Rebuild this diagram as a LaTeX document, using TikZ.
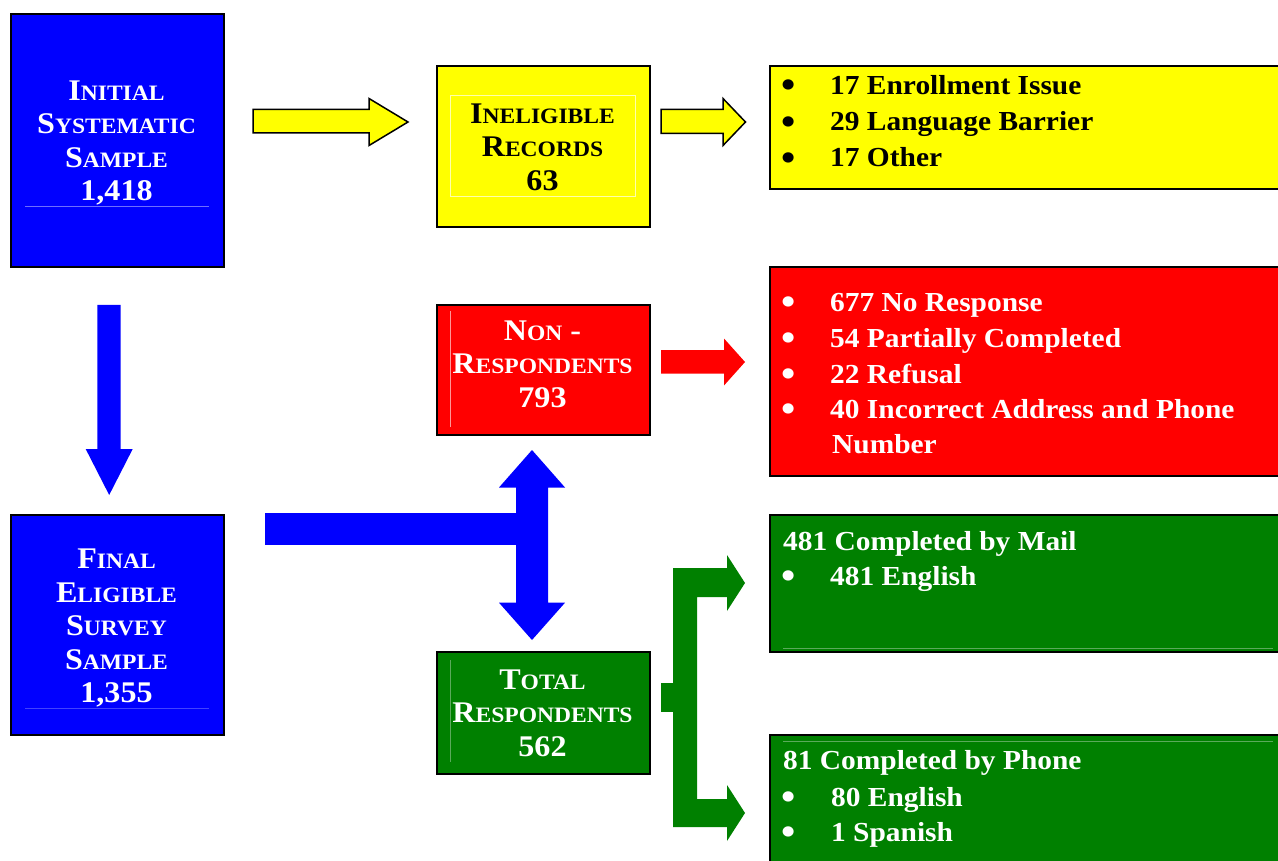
\documentclass[tikz,border=0pt]{standalone}
\usepackage{fontspec}
\setmainfont{Liberation Serif}[FakeStretch=1.07]
\definecolor{pblue}{RGB}{0,0,255}
\definecolor{pyellow}{RGB}{255,255,0}
\definecolor{pred}{RGB}{255,0,0}
\definecolor{pgreen}{RGB}{0,128,0}
\definecolor{fblue}{RGB}{110,110,255}
\definecolor{fyellow}{RGB}{255,255,170}
\definecolor{fred}{RGB}{255,150,150}
\definecolor{fgreen}{RGB}{90,170,90}
\newcommand\boxfont{\fontsize{30}{33.5}\selectfont\bfseries}
\newcommand\listfont{\fontsize{27.5}{36}\selectfont\bfseries}
\newcommand\mysc[2]{#1{\fontsize{22}{22}\selectfont #2}}
\newcommand\mybul{\raisebox{-3.2pt}{\fontsize{38}{38}\selectfont •}}
\begin{document}
\begin{tikzpicture}[x=1pt,y=-1pt,
  box/.style={draw=black, line width=2pt, inner sep=0pt, anchor=north west},
  boxtext/.style={align=center, font=\boxfont, inner sep=0pt},
  item/.style={anchor=base west, font=\listfont, inner sep=0pt},
  bul/.style={anchor=base, font=\listfont, inner sep=0pt},
  faint/.style={line width=0.8pt},
  yarrow/.style={fill=pyellow, draw=black, line width=1.5pt, line join=miter},
]
\clip (0,0) rectangle (1278,861);
\fill[white] (0,0) rectangle (1278,861);

% ---------- left column boxes ----------
\node[box, fill=pblue, minimum width=213pt, minimum height=253pt] (init) at (10,13) {};
\draw[faint, fblue] (25,206.5) -- (209,206.5);
\node[boxtext, text=white] (initT) at (116.5,143) {\mysc{I}{NITIAL}\\\mysc{S}{YSTEMATIC}\\\mysc{S}{AMPLE}\\1,418};

\node[box, fill=pblue, minimum width=213pt, minimum height=220pt] (final) at (10,513.5) {};
\draw[faint, fblue!60!pblue] (25,708.3) -- (209,708.3);
\node[boxtext, text=white] (finalT) at (116.5,628) {\mysc{F}{INAL}\\\mysc{E}{LIGIBLE}\\\mysc{S}{URVEY}\\\mysc{S}{AMPLE}\\1,355};

% ---------- middle column boxes ----------
\node[box, fill=pyellow, minimum width=213pt, minimum height=161pt] (inel) at (436,65) {};
\draw[faint, fyellow] (450,95) rectangle (635,196);
\node[boxtext, text=black] (inelT) at (542.5,147) {\mysc{I}{NELIGIBLE}\\\mysc{R}{ECORDS}\\63};

\node[box, fill=pred, minimum width=213pt, minimum height=130pt] (nonr) at (436,304) {};
\draw[faint, fred] (450.7,311) -- (450.7,427);
\node[boxtext, text=white] (nonrT) at (542.5,364) {\mysc{N}{ON} -\\\mysc{R}{ESPONDENTS}\\793};

\node[box, fill=pgreen, minimum width=213pt, minimum height=122pt] (total) at (436,651) {};
\draw[faint, fgreen] (450.3,660) -- (450.3,762);
\node[boxtext, text=white] (totalT) at (542.5,713) {\mysc{T}{OTAL}\\\mysc{R}{ESPONDENTS}\\562};

% ---------- right column boxes ----------
\node[box, fill=pyellow, minimum width=530pt, minimum height=123pt] (inelL) at (768.5,65) {};
\node[bul] (b1) at (789,94.5) {\mybul};
\node[item] (i1) at (830,94.5) {17 Enrollment Issue};
\node[bul] (b2) at (789,131) {\mybul};
\node[item] (i2) at (830,131) {29 Language Barrier};
\node[bul] (b3) at (789,167) {\mybul};
\node[item] (i3) at (830,167) {17 Other};

\node[box, fill=pred, minimum width=530pt, minimum height=209pt] (nonrL) at (768.5,266) {};
\begin{scope}[text=white]
\node[bul] (r1b) at (789,311.5) {\mybul};
\node[item] (r1) at (830,311.5) {677 No Response};
\node[bul] (r2b) at (789,347.3) {\mybul};
\node[item] (r2) at (830,347.3) {54 Partially Completed};
\node[bul] (r3b) at (789,383) {\mybul};
\node[item] (r3) at (830,383) {22 Refusal};
\node[bul] (r4b) at (789,418.5) {\mybul};
\node[item] (r4) at (830,418.5) {40 Incorrect Address and Phone};
\node[item] (r5) at (832,453) {Number};
\end{scope}

\node[box, fill=pgreen, minimum width=530pt, minimum height=137pt] (mail) at (768.5,514) {};
\draw[faint, fgreen] (783,648.5) -- (1273,648.5);
\begin{scope}[text=white]
\node[item] (m1) at (783,550) {481 Completed by Mail};
\node[bul] (m2b) at (789,585) {\mybul};
\node[item] (m2) at (830,585) {481 English};
\end{scope}

\node[box, fill=pgreen, minimum width=530pt, minimum height=160pt] (phone) at (768.5,734) {};
\draw[faint, fgreen] (783,741.7) -- (1273,741.7);
\begin{scope}[text=white]
\node[item] (p1) at (783,769.5) {81 Completed by Phone};
\node[bul] (p2b) at (789,806) {\mybul};
\node[item] (p2) at (831,806) {80 English};
\node[bul] (p3b) at (789,841.5) {\mybul};
\node[item] (p3) at (831,841.5) {1 Spanish};
\end{scope}

% ---------- block arrows ----------
\draw[yarrow] (253,109.5) -- (369,109.5) -- (369,98.5) -- (408,122) -- (369,145.5) -- (369,133) -- (253,133) -- cycle;
\draw[yarrow] (661,109.5) -- (723,109.5) -- (723,98.5) -- (745.5,122) -- (723,145.5) -- (723,133.5) -- (661,133.5) -- cycle;
\fill[pred] (661,350) -- (724,350) -- (724,338.5) -- (745,362) -- (724,385.5) -- (724,373.5) -- (661,373.5) -- cycle;
\fill[pblue] (97.3,305) -- (120.7,305) -- (120.7,449) -- (132.7,449) -- (109.2,495) -- (85.7,449) -- (97.3,449) -- cycle;
\fill[pblue] (265,513) rectangle (532,545);
\fill[pblue] (516,487.5) -- (499,487.5) -- (532,450) -- (565,487.5) -- (548,487.5) -- (548,602.7) -- (565,602.7) -- (532,640) -- (499,602.7) -- (516,602.7) -- cycle;
\fill[pgreen] (661,683) rectangle (674,712);
\fill[pgreen] (673,568) -- (727,568) -- (727,555) -- (745,583) -- (727,611) -- (727,597) -- (697,597) -- (697,799) -- (727,799) -- (727,785) -- (745,813) -- (727,841) -- (727,827) -- (673,827) -- cycle;
\end{tikzpicture}
\end{document}
